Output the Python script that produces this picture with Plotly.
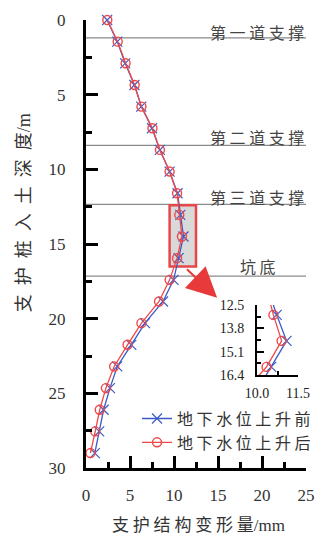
import plotly.graph_objects as go

# ---- data ----
depth = [0, 1.45, 2.9, 4.35, 5.8, 7.25, 8.7, 10.15, 11.6, 13.05, 14.5, 15.95,
         17.4, 18.85, 20.3, 21.75, 23.2, 24.65, 26.1, 27.55, 29.0]
before_rise = [2.4, 3.55, 4.45, 5.5, 6.28, 7.5, 8.4, 9.5, 10.4, 10.72, 11.08, 10.52,
               9.95, 8.75, 6.7, 5.15, 3.55, 2.72, 2.0, 1.5, 1.0]
after_rise = [2.42, 3.6, 4.5, 5.53, 6.3, 7.55, 8.4, 9.5, 10.35, 10.6, 10.9, 10.35,
              9.5, 8.3, 6.3, 4.72, 3.2, 2.26, 1.56, 1.05, 0.5]
series_names = ["地 下 水 位 上 升 前", "地 下 水 位 上 升 后"]
support_depths = [1.2, 8.4, 12.35]
support_labels = ["第 一 道 支 撑", "第 二 道 支 撑", "第 三 道 支 撑"]
pit_bottom_depth = 17.15
pit_bottom_label = "坑 底"
zoom_x = [9.5, 12.5]
zoom_y = [12.4, 16.5]
inset_yticks = [12.5, 13.8, 15.1, 16.4]
inset_xticks = [10.0, 11.5]

BLUE = "#3a5bc7"
RED = "#f04848"
CJK = "Noto Sans CJK SC"
NUMFONT = "Liberation Serif"

fig = go.Figure()

for xa, ya, show in [("x", "y", True), ("x2", "y2", False)]:
    fig.add_trace(go.Scatter(
        x=before_rise, y=depth, mode="lines+markers", name=series_names[0],
        line=dict(color=BLUE, width=1.3),
        marker=dict(symbol="x-thin", size=10, line=dict(color=BLUE, width=1.2)),
        xaxis=xa, yaxis=ya, showlegend=show, cliponaxis=(xa == "x2")))
    fig.add_trace(go.Scatter(
        x=after_rise, y=depth, mode="lines+markers", name=series_names[1],
        line=dict(color=RED, width=1.3),
        marker=dict(symbol="circle-open", size=9, color=RED, line=dict(color=RED, width=1.4)),
        xaxis=xa, yaxis=ya, showlegend=show, cliponaxis=(xa == "x2")))

shapes = []
for d in support_depths + [pit_bottom_depth]:
    shapes.append(dict(type="line", xref="x", yref="y", x0=0, x1=25.4, y0=d, y1=d,
                       line=dict(color="#8a8a8a", width=1.3), layer="below"))
shapes.append(dict(type="rect", xref="x", yref="y", x0=zoom_x[0], x1=zoom_x[1],
                   y0=zoom_y[0], y1=zoom_y[1], fillcolor="#d9d9d9",
                   line=dict(color="#e8474a", width=2.5), layer="below"))

annotations = []
label_offsets = [-0.42, -0.55, -0.52]
for d, lab, off in zip(support_depths, support_labels, label_offsets):
    annotations.append(dict(x=25, y=d + off, xref="x", yref="y", text=lab, showarrow=False,
                            xanchor="right", yanchor="middle",
                            font=dict(family=CJK, size=16, color="#444")))
annotations.append(dict(x=19.6, y=pit_bottom_depth - 0.67, xref="x", yref="y",
                        text=pit_bottom_label, showarrow=False, xanchor="center",
                        yanchor="middle", font=dict(family=CJK, size=16, color="#444")))
annotations.append(dict(x=14.9, y=18.6, ax=11.3, ay=16.6, xref="x", yref="y",
                        axref="x", ayref="y", text="", showarrow=True, arrowhead=2,
                        arrowsize=3, arrowwidth=2, arrowcolor="#e83a3a"))
annotations.append(dict(x=-0.29, y=0.569, xref="paper", yref="paper",
                        text="支\u2002护\u2002桩\u2002入\u2002土\u2002深\u2002度"
                             "<span style='font-family:Liberation Serif'>/m</span>",
                        textangle=-90, showarrow=False, xanchor="center", yanchor="middle",
                        font=dict(family=CJK, size=18, color="#333")))
annotations.append(dict(x=0.511, y=-0.1228, xref="paper", yref="paper",
                        text="支 护 结 构 变 形 量"
                             "<span style='font-family:Liberation Serif'>/mm</span>",
                        showarrow=False, xanchor="center", yanchor="middle",
                        font=dict(family=CJK, size=17, color="#333")))

axis_common = dict(showgrid=False, zeroline=False, showline=True, linecolor="black",
                   ticks="inside", tickcolor="black")

fig.update_layout(
    width=322, height=535,
    margin=dict(l=86, r=16, t=20, b=67, autoexpand=False),
    paper_bgcolor="white", plot_bgcolor="white",
    font=dict(family=CJK, color="#222"),
    xaxis=dict(range=[0, 25], dtick=5, linewidth=3, ticklen=12, tickwidth=3,
               tickfont=dict(size=17, family=NUMFONT, color="#333"), ticklabelstandoff=10,
               minor=dict(dtick=2.5, ticklen=6, tickwidth=3, ticks="inside", tickcolor="black"),
               **axis_common),
    yaxis=dict(range=[30, 0], dtick=5, linewidth=3, ticklen=12, tickwidth=3,
               tickfont=dict(size=17, family=NUMFONT, color="#333"), ticklabelstandoff=14,
               minor=dict(dtick=2.5, ticklen=6, tickwidth=3, ticks="inside", tickcolor="black"),
               **axis_common),
    xaxis2=dict(domain=[0.777, 0.964], anchor="y2", range=[10.0, 11.5],
                tickvals=inset_xticks, ticktext=[f"{v:.1f}" for v in inset_xticks],
                linewidth=2, ticklen=7, tickwidth=2,
                tickfont=dict(size=14, family=NUMFONT, color="#222"), ticklabelstandoff=4,
                minor=dict(tick0=10.0, dtick=0.75, ticklen=4, tickwidth=2, ticks="inside",
                           tickcolor="black"),
                **axis_common),
    yaxis2=dict(domain=[0.2076, 0.3638], anchor="x2", range=[16.4, 12.5],
                tickvals=inset_yticks, ticktext=[f"{v:.1f}" for v in inset_yticks],
                linewidth=2, ticklen=7, tickwidth=2,
                tickfont=dict(size=14, family=NUMFONT, color="#222"), ticklabelstandoff=8,
                minor=dict(tick0=12.5, dtick=0.65, ticklen=4, tickwidth=2, ticks="inside",
                           tickcolor="black"),
                **axis_common),
    legend=dict(x=0.4255, y=0.2493, xref="container", yref="container",
                xanchor="left", yanchor="top", bgcolor="rgba(0,0,0,0)",
                font=dict(family=CJK, size=16, color="#333"), itemwidth=30),
    shapes=shapes, annotations=annotations,
)

fig.write_html("out.html", config={"displayModeBar": False},
               post_script="document.body.style.margin='0';document.body.style.padding='0';")
